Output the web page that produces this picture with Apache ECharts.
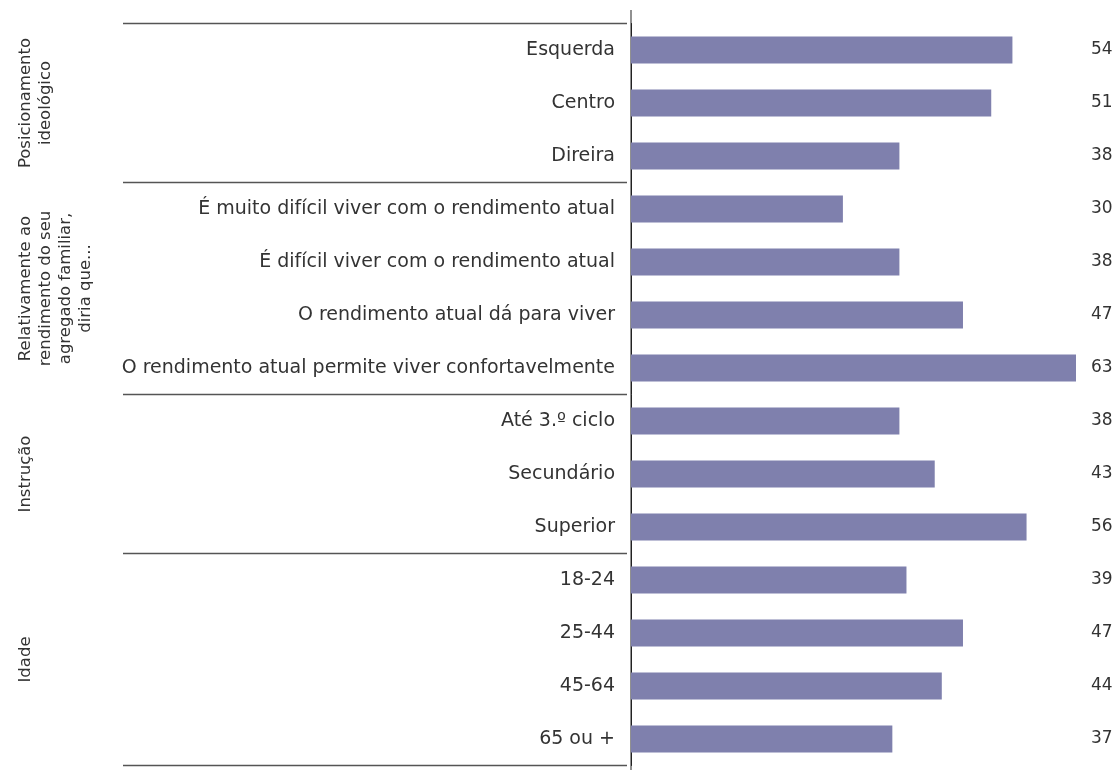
<!DOCTYPE html>
<html>
<head>
<meta charset="utf-8">
<script src="https://cdn.jsdelivr.net/npm/echarts@6/dist/echarts.min.js"></script>
<style>
html,body{margin:0;padding:0;background:#fff;}
#chart{width:1117px;height:770px;}
</style>
</head>
<body>
<div id="chart"></div>
<script>
const categories = [
  'Esquerda', 'Centro', 'Direira',
  'É muito difícil viver com o rendimento atual',
  'É difícil viver com o rendimento atual',
  'O rendimento atual dá para viver',
  'O rendimento atual permite viver confortavelmente',
  'Até 3.º ciclo', 'Secundário', 'Superior',
  '18-24', '25-44', '45-64', '65 ou +'
];
const values = [54, 51, 38, 30, 38, 47, 63, 38, 43, 56, 39, 47, 44, 37];
const groupNames = [
  'Posicionamento\nideológico',
  'Relativamente ao\nrendimento do seu\nagregado familiar,\ndiria que...',
  'Instrução',
  'Idade'
];
const groupSizes = [3, 4, 3, 4];

const FONT = 'DejaVu Sans';
const TEXT = '#333333';
const chart = echarts.init(document.getElementById('chart'), null, {renderer: 'canvas'});

const option = {
  animation: false,
  backgroundColor: '#ffffff',
  grid: {left: 631, right: 41, top: 23.5, bottom: 4.5, containLabel: false},
  xAxis: {
    type: 'value', min: 0, max: 63,
    axisLine: {show: false}, axisTick: {show: false},
    axisLabel: {show: false}, splitLine: {show: false}
  },
  yAxis: [
    {
      type: 'category', data: categories, inverse: true,
      axisLine: {show: true, lineStyle: {color: '#222', width: 1}},
      axisTick: {show: false},
      axisLabel: {color: TEXT, fontFamily: FONT, fontSize: 19, margin: 16}
    },
    {
      type: 'category', data: values.map(String), inverse: true, position: 'right',
      axisLine: {show: false}, axisTick: {show: false},
      axisLabel: {color: TEXT, fontFamily: FONT, fontSize: 17, margin: 15, align: 'left', padding: [3, 0, 0, 0]}
    }
  ],
  series: [{
    type: 'bar', data: values, barWidth: '51%',
    itemStyle: {color: '#7f80ad'}, silent: true
  }]
};
chart.setOption(option);

function drawGraphics() {
  const els = [];
  const top = chart.convertToPixel({yAxisIndex: 0}, 0);
  const next = chart.convertToPixel({yAxisIndex: 0}, 1);
  const band = next - top;
  const y0 = top - band / 2;
  let idx = 0;
  const bounds = [y0];
  groupSizes.forEach(s => { idx += s; bounds.push(y0 + idx * band); });
  bounds.forEach(b => {
    els.push({type: 'line', shape: {x1: 123, y1: b, x2: 627, y2: b},
      style: {stroke: '#555', lineWidth: 1.3}, silent: true});
  });
  groupNames.forEach((g, i) => {
    const cy = (bounds[i] + bounds[i + 1]) / 2;
    els.push({type: 'text', x: 16, y: cy, rotation: Math.PI / 2,
      style: {text: g, fontFamily: FONT, fontSize: 16.5, fill: TEXT,
        align: 'center', verticalAlign: 'top', lineHeight: 20}, silent: true});
  });
  const ax = chart.convertToPixel({xAxisIndex: 0}, 0);
  els.push({type: 'line', shape: {x1: ax, y1: 10, x2: ax, y2: 770},
    style: {stroke: '#222', lineWidth: 1}, silent: true});
  chart.setOption({graphic: els});
}
drawGraphics();
</script>
</body>
</html>
